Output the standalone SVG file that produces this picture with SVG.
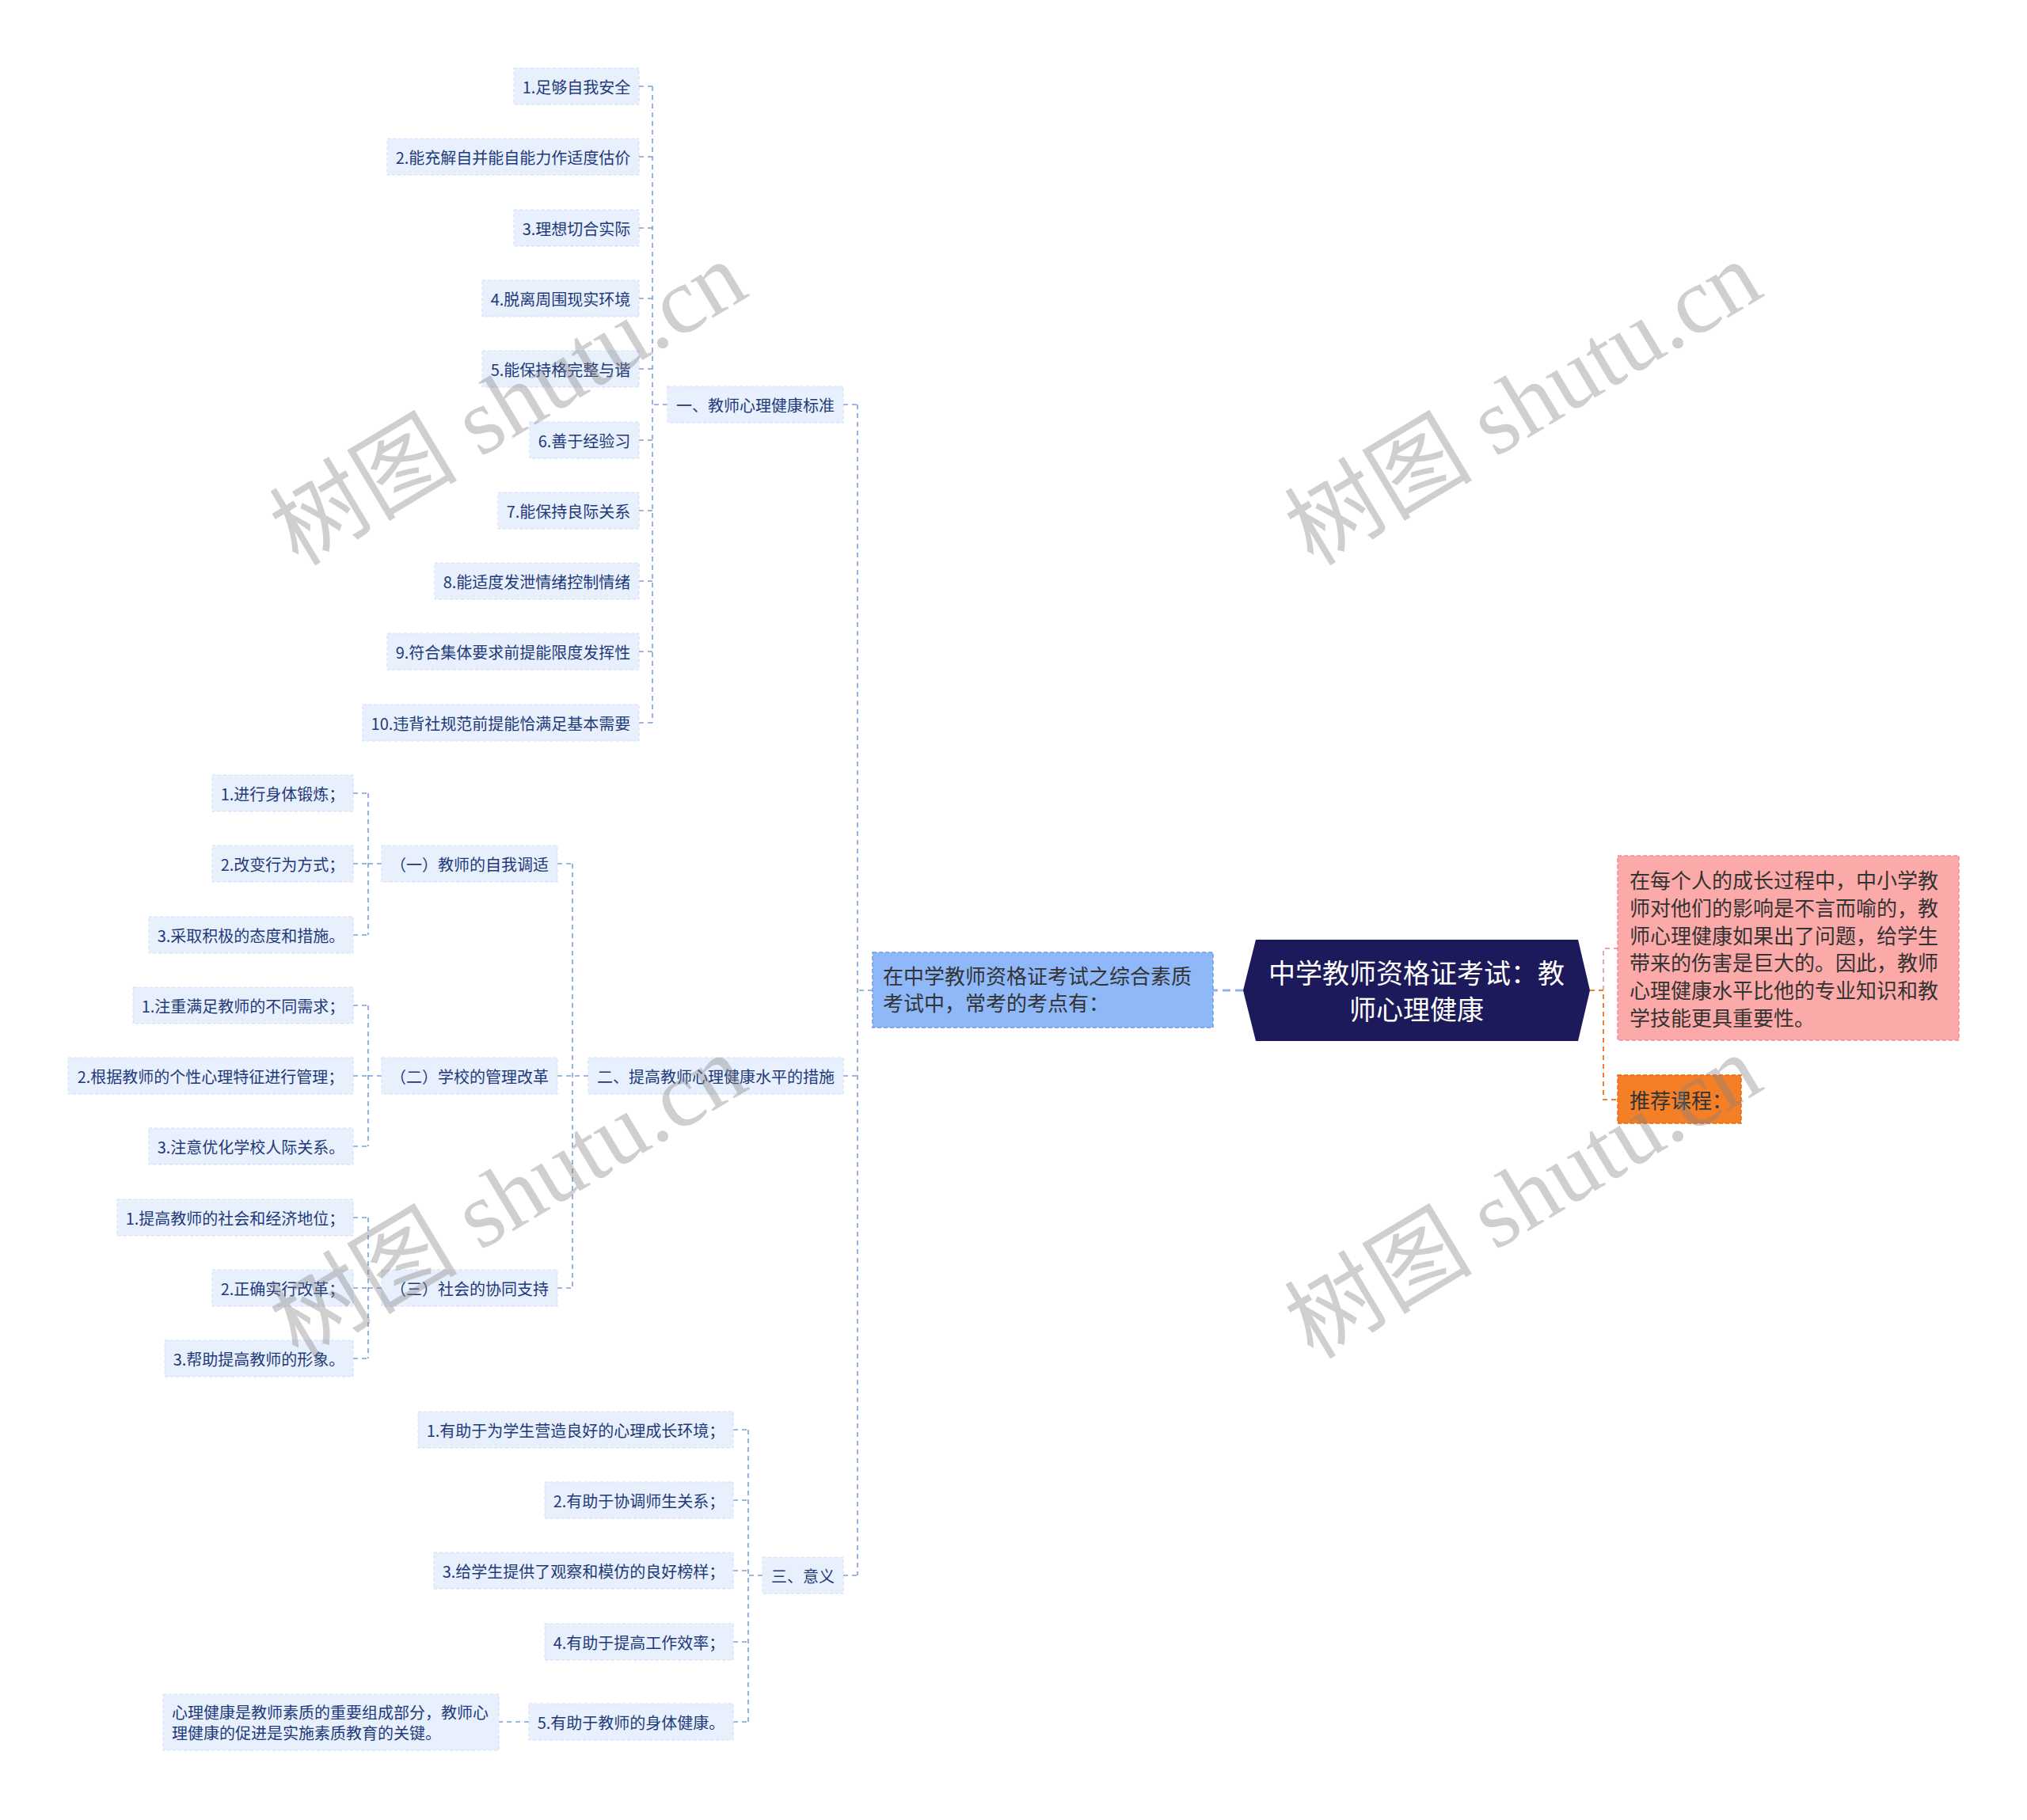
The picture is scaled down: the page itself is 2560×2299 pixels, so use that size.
<svg xmlns="http://www.w3.org/2000/svg" width="2560" height="2299" viewBox="0 0 2560 2299">
<style>
.n rect{fill:#e8f0fd;stroke:#d2dff4;stroke-width:1;stroke-dasharray:4 3}
.n text{font-family:"Noto Sans CJK SC","Noto Sans",sans-serif;font-size:20px;fill:#1f3a78;text-anchor:middle;dominant-baseline:central}
.big text{font-family:"Noto Sans CJK SC","Noto Sans",sans-serif;font-size:26px;fill:#333333;dominant-baseline:central}
.c path{fill:none;stroke:#7d9fd3;stroke-width:1.6;stroke-dasharray:6 5}
.wm{font-family:"Liberation Serif","Noto Sans CJK SC",serif;font-size:119px;fill:#808080;fill-opacity:0.38;text-anchor:middle;dominant-baseline:central}
</style>
<rect width="2560" height="2299" fill="#ffffff"/>

<g id="connectors" class="c">
  <path d="M1102 1251 H1083 M1083 511 V1990 M1065 511 H1083 M1065 1359 H1083 M1065 1990 H1083"/>
  <path d="M843 511 H824 M824 109 V913 M807 109 H824 M807 198 H824 M807 288 H824 M807 377 H824 M807 466 H824 M807 556 H824 M807 645 H824 M807 734 H824 M807 823 H824 M807 913 H824"/>
  <path d="M743 1359 H723 M723 1091 V1627 M704 1091 H723 M704 1359 H723 M704 1627 H723"/>
  <path d="M482 1091 H465 M465 1002 V1181 M446 1002 H465 M446 1091 H465 M446 1181 H465"/>
  <path d="M482 1359 H465 M465 1270 V1448 M446 1270 H465 M446 1359 H465 M446 1448 H465"/>
  <path d="M482 1627 H465 M465 1538 V1716 M446 1538 H465 M446 1627 H465 M446 1716 H465"/>
  <path d="M963 1990 H945 M945 1806 V2175 M926 1806 H945 M926 1895 H945 M926 1984 H945 M926 2074 H945 M926 2175 H945"/>
  <path d="M668 2175 H630"/>
  <path d="M1570 1251 H1532" style="stroke:#8fb3ec;stroke-width:3;stroke-dasharray:10 6"/>
  <path d="M2008 1251 H2025 V1389 H2043" style="stroke:#ee7d2e;stroke-width:2;stroke-dasharray:6 5"/>
  <path d="M2025 1251 V1198 H2043" style="stroke:#f2a3a3;stroke-width:2;stroke-dasharray:6 5"/>
</g>

<g id="root">
  <polygon points="1570,1251 1586,1187 1993,1187 2008,1251 1993,1315 1586,1315" fill="#1c1a5b"/>
  <text x="1789" y="1227" font-family="Noto Sans CJK SC, sans-serif" font-size="34" fill="#ffffff" text-anchor="middle" dominant-baseline="central">中学教师资格证考试：教</text>
  <text x="1789" y="1273" font-family="Noto Sans CJK SC, sans-serif" font-size="34" fill="#ffffff" text-anchor="middle" dominant-baseline="central">师心理健康</text>
</g>

<g id="n-intro" class="big">
  <rect x="1102" y="1203" width="430" height="95" fill="#8fb8f9" stroke="#6f9be0" stroke-width="1.5" stroke-dasharray="5 3"/>
  <text x="1115" y="1231">在中学教师资格证考试之综合素质</text>
  <text x="1115" y="1265">考试中，常考的考点有：</text>
</g>

<g id="n-pink" class="big">
  <rect x="2043" y="1081" width="431" height="233" fill="#fcaaa9" stroke="#ef8e8e" stroke-width="1.5" stroke-dasharray="5 3"/>
  <text x="2058" y="1110">在每个人的成长过程中，中小学教</text>
  <text x="2058" y="1145">师对他们的影响是不言而喻的，教</text>
  <text x="2058" y="1180">师心理健康如果出了问题，给学生</text>
  <text x="2058" y="1214">带来的伤害是巨大的。因此，教师</text>
  <text x="2058" y="1249">心理健康水平比他的专业知识和教</text>
  <text x="2058" y="1284">学技能更具重要性。</text>
</g>

<g id="n-course" class="big">
  <rect x="2043" y="1358" width="156" height="61" fill="#f57f27" stroke="#e3691a" stroke-width="1.5" stroke-dasharray="5 3"/>
  <text x="2058" y="1388">推荐课程：</text>
</g>

<g id="n-1" class="n"><rect x="843" y="488" width="222" height="46"/><text x="954" y="511">一、教师心理健康标准</text></g>
<g id="n-2" class="n"><rect x="743" y="1336" width="322" height="46"/><text x="904" y="1359">二、提高教师心理健康水平的措施</text></g>
<g id="n-3" class="n"><rect x="963" y="1967" width="102" height="46"/><text x="1014" y="1990">三、意义</text></g>

<g id="n-1-1" class="n"><rect x="649" y="86" width="158" height="46"/><text x="728" y="109">1.足够自我安全</text></g>
<g id="n-1-2" class="n"><rect x="489" y="175" width="318" height="46"/><text x="648" y="198">2.能充解自并能自能力作适度估价</text></g>
<g id="n-1-3" class="n"><rect x="649" y="265" width="158" height="46"/><text x="728" y="288">3.理想切合实际</text></g>
<g id="n-1-4" class="n"><rect x="609" y="354" width="198" height="46"/><text x="708" y="377">4.脱离周围现实环境</text></g>
<g id="n-1-5" class="n"><rect x="609" y="443" width="198" height="46"/><text x="708" y="466">5.能保持格完整与谐</text></g>
<g id="n-1-6" class="n"><rect x="669" y="533" width="138" height="46"/><text x="738" y="556">6.善于经验习</text></g>
<g id="n-1-7" class="n"><rect x="629" y="622" width="178" height="46"/><text x="718" y="645">7.能保持良际关系</text></g>
<g id="n-1-8" class="n"><rect x="549" y="711" width="258" height="46"/><text x="678" y="734">8.能适度发泄情绪控制情绪</text></g>
<g id="n-1-9" class="n"><rect x="489" y="800" width="318" height="46"/><text x="648" y="823">9.符合集体要求前提能限度发挥性</text></g>
<g id="n-1-10" class="n"><rect x="458" y="890" width="349" height="46"/><text x="632.5" y="913">10.违背社规范前提能恰满足基本需要</text></g>

<g id="n-2-1" class="n"><rect x="482" y="1068" width="222" height="46"/><text x="593" y="1091">（一）教师的自我调适</text></g>
<g id="n-2-2" class="n"><rect x="482" y="1336" width="222" height="46"/><text x="593" y="1359">（二）学校的管理改革</text></g>
<g id="n-2-3" class="n"><rect x="482" y="1604" width="222" height="46"/><text x="593" y="1627">（三）社会的协同支持</text></g>

<g id="n-2-1-1" class="n"><rect x="268" y="979" width="178" height="46"/><text x="357" y="1002">1.进行身体锻炼；</text></g>
<g id="n-2-1-2" class="n"><rect x="268" y="1068" width="178" height="46"/><text x="357" y="1091">2.改变行为方式；</text></g>
<g id="n-2-1-3" class="n"><rect x="188" y="1158" width="258" height="46"/><text x="317" y="1181">3.采取积极的态度和措施。</text></g>
<g id="n-2-2-1" class="n"><rect x="168" y="1247" width="278" height="46"/><text x="307" y="1270">1.注重满足教师的不同需求；</text></g>
<g id="n-2-2-2" class="n"><rect x="86" y="1336" width="360" height="46"/><text x="266" y="1359">2.根据教师的个性心理特征进行管理；</text></g>
<g id="n-2-2-3" class="n"><rect x="188" y="1425" width="258" height="46"/><text x="317" y="1448">3.注意优化学校人际关系。</text></g>
<g id="n-2-3-1" class="n"><rect x="148" y="1515" width="298" height="46"/><text x="297" y="1538">1.提高教师的社会和经济地位；</text></g>
<g id="n-2-3-2" class="n"><rect x="268" y="1604" width="178" height="46"/><text x="357" y="1627">2.正确实行改革；</text></g>
<g id="n-2-3-3" class="n"><rect x="208" y="1693" width="238" height="46"/><text x="327" y="1716">3.帮助提高教师的形象。</text></g>

<g id="n-3-1" class="n"><rect x="528" y="1783" width="398" height="46"/><text x="727" y="1806">1.有助于为学生营造良好的心理成长环境；</text></g>
<g id="n-3-2" class="n"><rect x="688" y="1872" width="238" height="46"/><text x="807" y="1895">2.有助于协调师生关系；</text></g>
<g id="n-3-3" class="n"><rect x="548" y="1961" width="378" height="46"/><text x="737" y="1984">3.给学生提供了观察和模仿的良好榜样；</text></g>
<g id="n-3-4" class="n"><rect x="688" y="2051" width="238" height="46"/><text x="807" y="2074">4.有助于提高工作效率；</text></g>
<g id="n-3-5" class="n"><rect x="668" y="2152" width="258" height="46"/><text x="797" y="2175">5.有助于教师的身体健康。</text></g>
<g id="n-3-5-1" class="n"><rect x="206" y="2140" width="424" height="71"/><text x="217" y="2162" style="text-anchor:start">心理健康是教师素质的重要组成部分，教师心</text><text x="217" y="2188" style="text-anchor:start">理健康的促进是实施素质教育的关键。</text></g>

<g id="watermarks">
  <text class="wm" x="642" y="510" transform="rotate(-31 642 510)">树图 shutu.cn</text>
  <text class="wm" x="1924" y="510" transform="rotate(-31 1924 510)">树图 shutu.cn</text>
  <text class="wm" x="642" y="1512" transform="rotate(-31 642 1512)">树图 shutu.cn</text>
  <text class="wm" x="1924" y="1512" transform="rotate(-31 1924 1512)">树图 shutu.cn</text>
</g>
</svg>
